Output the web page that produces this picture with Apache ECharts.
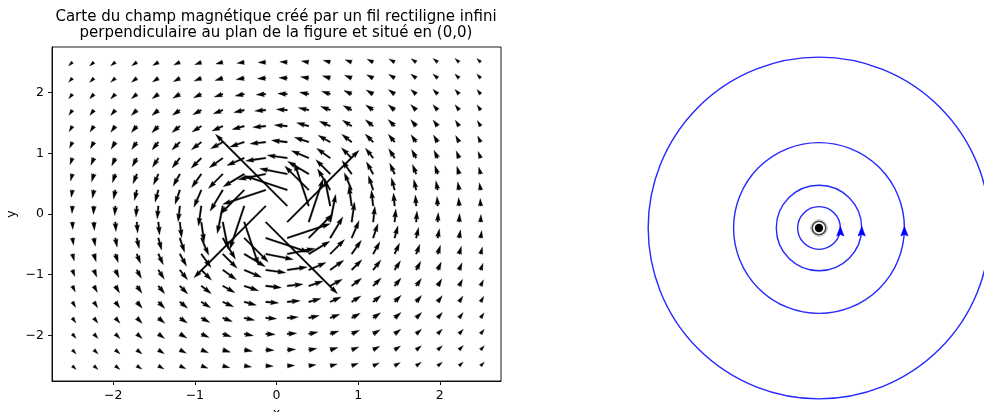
<!DOCTYPE html>
<html><head><meta charset="utf-8">
<script src="https://cdn.jsdelivr.net/npm/echarts@6/dist/echarts.min.js"></script>
<style>html,body{margin:0;padding:0;background:#fff}#c{width:984px;height:412px}</style>
</head><body><div id="c"></div>
<script>
// ---------- data ----------
const TITLE = 'Carte du champ magnétique créé par un fil rectiligne infini\nperpendiculaire au plan de la figure et situé en (0,0)';
const X_NAME = 'x';
const Y_NAME = 'y';
const X_TICKS = [-2, -1, 0, 1, 2];
const Y_TICKS = [-2, -1, 0, 1, 2];

// quiver sample positions
const GRID_X = [-2.5,-2.237,-1.974,-1.711,-1.447,-1.184,-0.921,-0.658,-0.395,-0.132,0.132,0.395,0.658,0.921,1.184,1.447,1.711,1.974,2.237,2.5];
const GRID_Y = [-2.5,-2.237,-1.974,-1.711,-1.447,-1.184,-0.921,-0.658,-0.395,-0.132,0.132,0.395,0.658,0.921,1.184,1.447,1.711,1.974,2.237,2.5];

// field components, row = GRID_Y index (bottom to top), column = GRID_X index
const U = [
[0.2,0.222,0.246,0.273,0.3,0.327,0.352,0.374,0.39,0.399,0.399,0.39,0.374,0.352,0.327,0.3,0.273,0.246,0.222,0.2],
[0.199,0.224,0.251,0.282,0.315,0.349,0.382,0.412,0.434,0.446,0.446,0.434,0.412,0.382,0.349,0.315,0.282,0.251,0.224,0.199],
[0.195,0.222,0.253,0.289,0.33,0.373,0.416,0.456,0.487,0.504,0.504,0.487,0.456,0.416,0.373,0.33,0.289,0.253,0.222,0.195],
[0.186,0.216,0.251,0.292,0.341,0.395,0.453,0.509,0.555,0.581,0.581,0.555,0.509,0.453,0.395,0.341,0.292,0.251,0.216,0.186],
[0.173,0.204,0.242,0.288,0.345,0.414,0.492,0.573,0.643,0.685,0.685,0.643,0.573,0.492,0.414,0.345,0.288,0.242,0.204,0.173],
[0.155,0.185,0.224,0.274,0.339,0.422,0.526,0.645,0.76,0.834,0.834,0.76,0.645,0.526,0.422,0.339,0.274,0.224,0.185,0.155],
[0.13,0.157,0.194,0.244,0.313,0.409,0.543,0.719,0.917,1.064,1.064,0.917,0.719,0.543,0.409,0.313,0.244,0.194,0.157,0.13],
[0.098,0.121,0.152,0.196,0.26,0.358,0.514,0.76,1.118,1.462,1.462,1.118,0.76,0.514,0.358,0.26,0.196,0.152,0.121,0.098],
[0.062,0.077,0.097,0.128,0.175,0.253,0.393,0.671,1.267,2.28,2.28,1.267,0.671,0.393,0.253,0.175,0.128,0.097,0.077,0.062],
[0.021,0.026,0.034,0.045,0.062,0.093,0.152,0.292,0.76,3.8,3.8,0.76,0.292,0.152,0.093,0.062,0.045,0.034,0.026,0.021],
[-0.021,-0.026,-0.034,-0.045,-0.062,-0.093,-0.152,-0.292,-0.76,-3.8,-3.8,-0.76,-0.292,-0.152,-0.093,-0.062,-0.045,-0.034,-0.026,-0.021],
[-0.062,-0.077,-0.097,-0.128,-0.175,-0.253,-0.393,-0.671,-1.267,-2.28,-2.28,-1.267,-0.671,-0.393,-0.253,-0.175,-0.128,-0.097,-0.077,-0.062],
[-0.098,-0.121,-0.152,-0.196,-0.26,-0.358,-0.514,-0.76,-1.118,-1.462,-1.462,-1.118,-0.76,-0.514,-0.358,-0.26,-0.196,-0.152,-0.121,-0.098],
[-0.13,-0.157,-0.194,-0.244,-0.313,-0.409,-0.543,-0.719,-0.917,-1.064,-1.064,-0.917,-0.719,-0.543,-0.409,-0.313,-0.244,-0.194,-0.157,-0.13],
[-0.155,-0.185,-0.224,-0.274,-0.339,-0.422,-0.526,-0.645,-0.76,-0.834,-0.834,-0.76,-0.645,-0.526,-0.422,-0.339,-0.274,-0.224,-0.185,-0.155],
[-0.173,-0.204,-0.242,-0.288,-0.345,-0.414,-0.492,-0.573,-0.643,-0.685,-0.685,-0.643,-0.573,-0.492,-0.414,-0.345,-0.288,-0.242,-0.204,-0.173],
[-0.186,-0.216,-0.251,-0.292,-0.341,-0.395,-0.453,-0.509,-0.555,-0.581,-0.581,-0.555,-0.509,-0.453,-0.395,-0.341,-0.292,-0.251,-0.216,-0.186],
[-0.195,-0.222,-0.253,-0.289,-0.33,-0.373,-0.416,-0.456,-0.487,-0.504,-0.504,-0.487,-0.456,-0.416,-0.373,-0.33,-0.289,-0.253,-0.222,-0.195],
[-0.199,-0.224,-0.251,-0.282,-0.315,-0.349,-0.382,-0.412,-0.434,-0.446,-0.446,-0.434,-0.412,-0.382,-0.349,-0.315,-0.282,-0.251,-0.224,-0.199],
[-0.2,-0.222,-0.246,-0.273,-0.3,-0.327,-0.352,-0.374,-0.39,-0.399,-0.399,-0.39,-0.374,-0.352,-0.327,-0.3,-0.273,-0.246,-0.222,-0.2]
];
const V = [
[-0.2,-0.199,-0.195,-0.186,-0.173,-0.155,-0.13,-0.098,-0.062,-0.021,0.021,0.062,0.098,0.13,0.155,0.173,0.186,0.195,0.199,0.2],
[-0.222,-0.224,-0.222,-0.216,-0.204,-0.185,-0.157,-0.121,-0.077,-0.026,0.026,0.077,0.121,0.157,0.185,0.204,0.216,0.222,0.224,0.222],
[-0.246,-0.251,-0.253,-0.251,-0.242,-0.224,-0.194,-0.152,-0.097,-0.034,0.034,0.097,0.152,0.194,0.224,0.242,0.251,0.253,0.251,0.246],
[-0.273,-0.282,-0.289,-0.292,-0.288,-0.274,-0.244,-0.196,-0.128,-0.045,0.045,0.128,0.196,0.244,0.274,0.288,0.292,0.289,0.282,0.273],
[-0.3,-0.315,-0.33,-0.341,-0.345,-0.339,-0.313,-0.26,-0.175,-0.062,0.062,0.175,0.26,0.313,0.339,0.345,0.341,0.33,0.315,0.3],
[-0.327,-0.349,-0.373,-0.395,-0.414,-0.422,-0.409,-0.358,-0.253,-0.093,0.093,0.253,0.358,0.409,0.422,0.414,0.395,0.373,0.349,0.327],
[-0.352,-0.382,-0.416,-0.453,-0.492,-0.526,-0.543,-0.514,-0.393,-0.152,0.152,0.393,0.514,0.543,0.526,0.492,0.453,0.416,0.382,0.352],
[-0.374,-0.412,-0.456,-0.509,-0.573,-0.645,-0.719,-0.76,-0.671,-0.292,0.292,0.671,0.76,0.719,0.645,0.573,0.509,0.456,0.412,0.374],
[-0.39,-0.434,-0.487,-0.555,-0.643,-0.76,-0.917,-1.118,-1.267,-0.76,0.76,1.267,1.118,0.917,0.76,0.643,0.555,0.487,0.434,0.39],
[-0.399,-0.446,-0.504,-0.581,-0.685,-0.834,-1.064,-1.462,-2.28,-3.8,3.8,2.28,1.462,1.064,0.834,0.685,0.581,0.504,0.446,0.399],
[-0.399,-0.446,-0.504,-0.581,-0.685,-0.834,-1.064,-1.462,-2.28,-3.8,3.8,2.28,1.462,1.064,0.834,0.685,0.581,0.504,0.446,0.399],
[-0.39,-0.434,-0.487,-0.555,-0.643,-0.76,-0.917,-1.118,-1.267,-0.76,0.76,1.267,1.118,0.917,0.76,0.643,0.555,0.487,0.434,0.39],
[-0.374,-0.412,-0.456,-0.509,-0.573,-0.645,-0.719,-0.76,-0.671,-0.292,0.292,0.671,0.76,0.719,0.645,0.573,0.509,0.456,0.412,0.374],
[-0.352,-0.382,-0.416,-0.453,-0.492,-0.526,-0.543,-0.514,-0.393,-0.152,0.152,0.393,0.514,0.543,0.526,0.492,0.453,0.416,0.382,0.352],
[-0.327,-0.349,-0.373,-0.395,-0.414,-0.422,-0.409,-0.358,-0.253,-0.093,0.093,0.253,0.358,0.409,0.422,0.414,0.395,0.373,0.349,0.327],
[-0.3,-0.315,-0.33,-0.341,-0.345,-0.339,-0.313,-0.26,-0.175,-0.062,0.062,0.175,0.26,0.313,0.339,0.345,0.341,0.33,0.315,0.3],
[-0.273,-0.282,-0.289,-0.292,-0.288,-0.274,-0.244,-0.196,-0.128,-0.045,0.045,0.128,0.196,0.244,0.274,0.288,0.292,0.289,0.282,0.273],
[-0.246,-0.251,-0.253,-0.251,-0.242,-0.224,-0.194,-0.152,-0.097,-0.034,0.034,0.097,0.152,0.194,0.224,0.242,0.251,0.253,0.251,0.246],
[-0.222,-0.224,-0.222,-0.216,-0.204,-0.185,-0.157,-0.121,-0.077,-0.026,0.026,0.077,0.121,0.157,0.185,0.204,0.216,0.222,0.224,0.222],
[-0.2,-0.199,-0.195,-0.186,-0.173,-0.155,-0.13,-0.098,-0.062,-0.021,0.021,0.062,0.098,0.13,0.155,0.173,0.186,0.195,0.199,0.2]
];

// right panel: field-line circles around the wire
const LOOP_RADII = [0.125, 0.25, 0.5, 1];
const LOOP_ARROW_Y = [-0.023, -0.023, -0.023, -0.023];
const WIRE_POS = [[0, 0]];

// ---------- build ----------
const QUIVER_SCALE = 4.32;   // field units per x-axis data unit of arrow length
const FONT = 'DejaVu Sans';

const quiverData = [];
for (let j = 0; j < GRID_Y.length; j++) {
  for (let i = 0; i < GRID_X.length; i++) {
    quiverData.push([GRID_X[i], GRID_Y[j], U[j][i], V[j][i]]);
  }
}
const loopData = LOOP_RADII.map(r => [r, 0]);
const loopArrowData = LOOP_RADII.map((r, k) => [r, LOOP_ARROW_Y[k]]);

function renderQuiver(params, api) {
  const x = api.value(0), y = api.value(1), u = api.value(2), v = api.value(3);
  const p = api.coord([x, y]);
  const m = Math.hypot(u, v);
  const L = api.size([m / QUIVER_SCALE, 0])[0];
  const w = params.coordSys.width * 0.0036;
  let pts;
  const minsh = 5 * w;
  if (L >= minsh) {
    pts = [[0, w/2], [L - 4.5*w, w/2], [L - 5*w, 1.5*w], [L, 0], [L - 5*w, -1.5*w], [L - 4.5*w, -w/2], [0, -w/2]];
  } else {
    const s = L / minsh;
    pts = [[0, s*w/2], [s*0.5*w, s*w/2], [0, s*1.5*w], [s*5*w, 0], [0, -s*1.5*w], [s*0.5*w, -s*w/2], [0, -s*w/2]];
  }
  const a = Math.atan2(-v, u);
  const c = Math.cos(a), sn = Math.sin(a);
  const poly = pts.map(q => [p[0] + q[0]*c - q[1]*sn, p[1] + q[0]*sn + q[1]*c]);
  return { type: 'polygon', shape: { points: poly }, style: { fill: '#000', stroke: '#000', lineWidth: 0.3 } };
}

function renderLoop(params, api) {
  const c = api.coord([0, 0]);
  const r = api.size([api.value(0), 0])[0];
  return { type: 'circle', shape: { cx: c[0], cy: c[1], r: r },
    style: { fill: null, stroke: '#1010ff', lineWidth: 1.4, opacity: 0.9 } };
}

function renderLoopArrow(params, api) {
  const p = api.coord([api.value(0), api.value(1)]);
  return { type: 'polygon', shape: { points: [[p[0], p[1] - 5.5], [p[0] + 3.6, p[1] + 4], [p[0], p[1] + 2.5], [p[0] - 3.6, p[1] + 4]] },
    style: { fill: '#0000ff', stroke: '#0000ff', lineWidth: 0.6 } };
}

function renderWire(params, api) {
  const p = api.coord([api.value(0), api.value(1)]);
  return { type: 'group', children: [
    { type: 'circle', shape: { cx: p[0], cy: p[1], r: 8.4 }, style: { fill: null, stroke: '#c8c8c8', lineWidth: 1 } },
    { type: 'circle', shape: { cx: p[0], cy: p[1], r: 6.8 }, style: { fill: null, stroke: '#444', lineWidth: 1.6 } },
    { type: 'circle', shape: { cx: p[0], cy: p[1], r: 4.2 }, style: { fill: '#000', stroke: null } }
  ] };
}

const fmt = v => String(v).replace('-', '\u2212');
const axisCommon = {
  type: 'value', gridIndex: 0, min: -2.75, max: 2.75,
  nameLocation: 'middle',
  nameTextStyle: { fontFamily: FONT, fontSize: 12.5, color: '#000' },
  axisLine: { show: true, onZero: false, lineStyle: { color: '#000', width: 0.9 } },
  splitLine: { show: false }
};

const chart = echarts.init(document.getElementById('c'), null, { renderer: 'canvas' });
chart.setOption({
  animation: false,
  backgroundColor: '#fff',
  title: {
    text: TITLE, left: 271, top: 4, textAlign: 'center',
    textStyle: { fontFamily: FONT, fontSize: 15, fontWeight: 'normal', color: '#000', lineHeight: 16 }
  },
  grid: [
    { left: 52, top: 47, width: 449, height: 334, show: true, borderColor: '#000', borderWidth: 0.9, backgroundColor: 'transparent', containLabel: false, outerBoundsMode: 'none' },
    { left: 614, top: 23, width: 410, height: 410, show: false, containLabel: false, outerBoundsMode: 'none' }
  ],
  xAxis: [
    Object.assign({}, axisCommon, {
      name: X_NAME, nameGap: 24,
      axisTick: { show: true, length: 4, customValues: X_TICKS, lineStyle: { color: '#000', width: 0.9 } },
      axisLabel: { customValues: X_TICKS, margin: 8, formatter: fmt, fontFamily: FONT, fontSize: 12.5, color: '#000' }
    }),
    { type: 'value', gridIndex: 1, min: -1.2, max: 1.2, show: false }
  ],
  yAxis: [
    Object.assign({}, axisCommon, {
      name: Y_NAME, nameGap: 34, nameRotate: 90,
      axisTick: { show: true, length: 4, customValues: Y_TICKS, lineStyle: { color: '#000', width: 0.9 } },
      axisLabel: { customValues: Y_TICKS, margin: 8, formatter: fmt, fontFamily: FONT, fontSize: 12.5, color: '#000' }
    }),
    { type: 'value', gridIndex: 1, min: -1.2, max: 1.2, show: false }
  ],
  series: [
    { type: 'custom', name: 'B', xAxisIndex: 0, yAxisIndex: 0, data: quiverData, renderItem: renderQuiver, clip: true,
      encode: { x: 0, y: 1 }, silent: true },
    { type: 'custom', name: 'lignes', xAxisIndex: 1, yAxisIndex: 1, data: loopData, renderItem: renderLoop, silent: true },
    { type: 'custom', name: 'sens', xAxisIndex: 1, yAxisIndex: 1, data: loopArrowData, renderItem: renderLoopArrow, silent: true },
    { type: 'custom', name: 'fil', xAxisIndex: 1, yAxisIndex: 1, data: WIRE_POS, renderItem: renderWire, silent: true }
  ]
});
</script>
</body></html>
